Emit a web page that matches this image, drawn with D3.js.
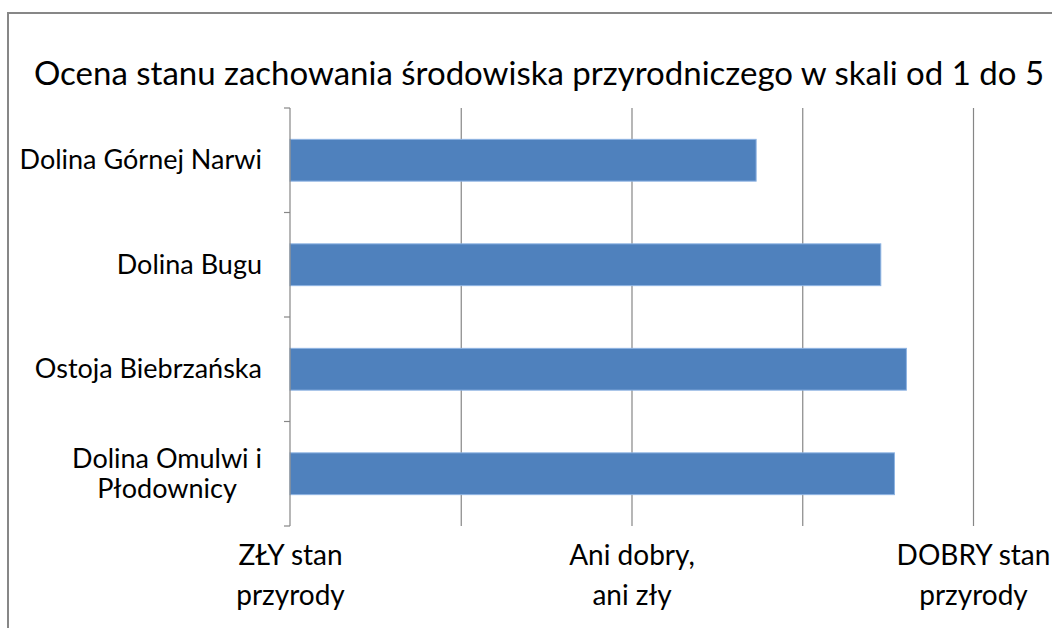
<!DOCTYPE html>
<html>
<head>
<meta charset="utf-8">
<script src="https://cdn.jsdelivr.net/npm/d3@7"></script>
<style>
  body { margin: 0; background: #fff; }
  svg { display: block; font-family: Lato, "Open Sans", sans-serif; }
</style>
</head>
<body>
<svg id="chart"></svg>
<script>
const title = "Ocena stanu zachowania środowiska przyrodniczego w skali od 1 do 5";
const categories = ["Dolina Górnej Narwi", "Dolina Bugu", "Ostoja Biebrzańska", "Dolina Omulwi i\nPłodownicy"];
const values = [3.73, 4.46, 4.61, 4.54];
const gridValues = [2, 3, 4, 5];
const tickValues = [1, 3, 5];
const tickLabels = ["ZŁY stan\nprzyrody", "Ani dobry,\nani zły", "DOBRY stan\nprzyrody"];

const W = 1052, H = 628;
const margin = { top: 108, right: 79, bottom: 102, left: 290 };
const width = W - margin.left - margin.right;
const height = H - margin.top - margin.bottom;

const svg = d3.select("#chart")
  .attr("width", W)
  .attr("height", H);

// chart border (right and bottom run off the picture)
svg.append("rect")
  .attr("x", 8).attr("y", 13)
  .attr("width", 1100).attr("height", 700)
  .attr("fill", "none")
  .attr("stroke", "#878787")
  .attr("stroke-width", 2);

svg.append("text")
  .attr("x", 539)
  .attr("y", 85)
  .attr("text-anchor", "middle")
  .attr("font-size", 33)
  .attr("fill", "#000")
  .text(title);

const g = svg.append("g")
  .attr("transform", "translate(" + margin.left + "," + margin.top + ")");

const xScale = d3.scaleLinear()
  .domain([1, 5])
  .range([0, width]);

const yScale = d3.scaleBand()
  .domain(categories)
  .range([0, height])
  .paddingInner(0.6)
  .paddingOuter(0.3);

// vertical gridlines
const grid = g.append("g")
  .attr("class", "grid")
  .call(d3.axisTop(xScale).tickValues(gridValues).tickSize(-height).tickFormat(""));
grid.select(".domain").remove();
grid.selectAll(".tick line").attr("stroke", "#868686").attr("stroke-width", 1.2);

// bars
g.selectAll(".bar")
  .data(values)
  .enter()
  .append("rect")
  .attr("class", "bar")
  .attr("x", xScale(1))
  .attr("y", (d, i) => yScale(categories[i]))
  .attr("width", d => xScale(d) - xScale(1))
  .attr("height", yScale.bandwidth())
  .attr("fill", "#4f81bd")
  .attr("stroke", "#8db3e2")
  .attr("stroke-width", 1);

// left axis: line + ticks at band boundaries
const bandStep = height / categories.length;
const yAxisG = g.append("g").attr("class", "y-axis");
yAxisG.append("line")
  .attr("x1", 0).attr("x2", 0)
  .attr("y1", 0).attr("y2", height)
  .attr("stroke", "#868686").attr("stroke-width", 1.2);
yAxisG.selectAll(".ytick")
  .data(d3.range(categories.length + 1))
  .enter()
  .append("line")
  .attr("x1", -6).attr("x2", 0)
  .attr("y1", i => i * bandStep).attr("y2", i => i * bandStep)
  .attr("stroke", "#868686").attr("stroke-width", 1.2);

// category labels
const yLabels = yAxisG.selectAll(".ylabel")
  .data(categories)
  .enter()
  .append("text")
  .attr("class", "ylabel")
  .attr("font-size", 27)
  .attr("fill", "#000")
  .attr("text-anchor", "middle");

yLabels.each(function (d) {
  const lines = d.split("\n");
  const t = d3.select(this);
  const lineH = 30;
  const cy = yScale(d) + yScale.bandwidth() / 2;
  lines.forEach((ln, j) => {
    t.append("tspan")
      .attr("x", 0)
      .attr("y", cy + 9 + (j - (lines.length - 1) / 2) * lineH)
      .text(ln);
  });
  // right-align the text block at x = -28, lines centred inside it
  const bw = this.getBBox().width;
  t.selectAll("tspan").attr("x", -28 - bw / 2);
});

// bottom tick labels
const xAxisG = g.append("g")
  .attr("transform", "translate(0," + height + ")")
  .call(d3.axisBottom(xScale).tickValues(tickValues).tickSize(0).tickFormat((d, i) => tickLabels[i]));
xAxisG.select(".domain").remove();
xAxisG.selectAll(".tick text")
  .attr("font-size", 28)
  .attr("font-family", "Lato, 'Open Sans', sans-serif")
  .attr("fill", "#000")
  .each(function (d, i) {
    const t = d3.select(this);
    const lines = tickLabels[i].split("\n");
    t.text(null);
    lines.forEach((ln, j) => {
      t.append("tspan")
        .attr("x", 0)
        .attr("y", 39 + j * 40)
        .attr("dy", 0)
        .text(ln);
    });
  });
</script>
</body>
</html>
